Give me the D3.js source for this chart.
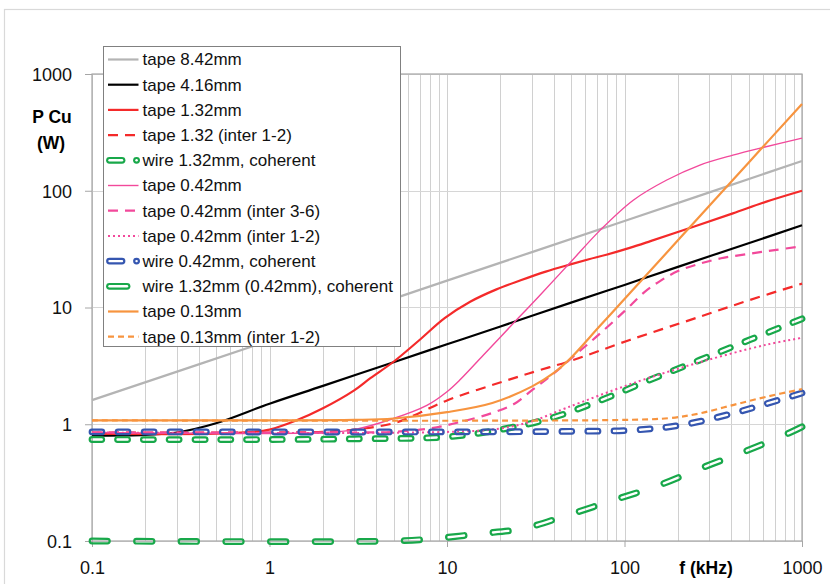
<!DOCTYPE html>
<html><head><meta charset="utf-8">
<script src="https://cdn.jsdelivr.net/npm/d3@7"></script>
<style>body{margin:0;background:#fff}svg{display:block}</style>
</head><body><svg id="c" width="830" height="584"></svg>
<script>
// ---- data ----
const freqTicks = [0.1, 1, 10, 100, 1000];
const powerTicks = [0.1, 1, 10, 100, 1000];
const seriesNames = [
  "tape 8.42mm", "tape 4.16mm", "tape 1.32mm", "tape 1.32 (inter 1-2)",
  "wire 1.32mm, coherent", "tape 0.42mm", "tape 0.42mm (inter 3-6)",
  "tape 0.42mm (inter 1-2)", "wire 0.42mm, coherent",
  "wire 1.32mm (0.42mm), coherent", "tape 0.13mm", "tape 0.13mm (inter 1-2)"
];
const tape842 = [[0.1,1.61],[1,5.2],[10,17],[100,55],[1000,180]];
const tape416 = [[0.1,0.8],[0.2,0.81],[0.3,0.85],[0.5,1.02],[1,1.5],[2,2.13],[5,3.4],[10,4.84],[20,6.88],[50,11],[100,15.6],[200,22.3],[500,35.5],[1000,50.6]];
const tape132 = [[0.1,0.83],[0.5,0.83],[0.8,0.86],[1,0.9],[1.4,1.07],[2,1.37],[3,1.95],[3.7,2.48],[5,3.43],[7,5.27],[9.7,8.1],[13.5,11.2],[19,14.3],[26,17.1],[36,20.3],[49,23.3],[63,25.9],[79,28.3],[107,32.4],[140,37],[245,49.2],[408,64],[630,80.7],[1000,100]];
const tape132i12 = [[0.1,0.85],[1,0.85],[2,0.86],[3,0.9],[5,1.02],[7,1.25],[10,1.6],[22,2.39],[33,2.9],[50,3.5],[107,5.27],[270,8.4],[500,11.5],[1000,16]];
const wire132 = [[0.1,0.74],[1,0.74],[3,0.75],[10,0.78],[20,0.9],[38,1.12],[73,1.6],[139,2.4],[266,3.55],[510,5.3],[1000,8]];
const tape042 = [[0.1,0.85],[2,0.85],[3,0.9],[5,1.12],[7.7,1.45],[10,1.9],[11.8,2.39],[16,3.9],[24.6,7.8],[33,12.5],[49,23.9],[73,46],[112,83],[172,123],[266,166],[408,202],[610,236],[1000,282]];
const tape042i36 = [[0.1,0.85],[3,0.85],[5,0.86],[8,0.92],[12,1.05],[18,1.25],[24,1.5],[30,1.95],[38,2.56],[54,4.05],[73,6.0],[100,9.3],[130,13.6],[160,17],[200,20.5],[260,23.5],[350,26.4],[500,28.8],[700,31],[1000,33.5]];
const tape042i12 = [[0.1,0.85],[10,0.86],[20,0.92],[30,1.06],[47,1.38],[112,2.25],[266,3.4],[630,4.8],[1000,5.5]];
const wire042 = [[0.1,0.86],[10,0.86],[50,0.87],[112,0.89],[214,0.99],[408,1.24],[630,1.5],[1000,1.85]];
const wire132s = [[0.1,0.1],[5,0.1],[8,0.104],[15,0.115],[27,0.128],[48,0.167],[87,0.224],[156,0.30],[280,0.43],[484,0.59],[843,0.84],[1000,0.95]];
const tape013 = [[0.1,1.08],[1,1.08],[3,1.09],[5,1.12],[10,1.27],[18,1.52],[30,2.1],[40,2.75],[49,3.6],[73,7.0],[100,11.8],[200,37.6],[500,174],[1000,553]];
const tape013i12 = [[0.1,1.08],[100,1.09],[180,1.13],[266,1.24],[408,1.46],[630,1.72],[1000,2.0]];

const seriesData = [tape842, tape416, tape132, tape132i12, wire132, tape042, tape042i36, tape042i12, wire042, wire132s, tape013, tape013i12];

// ---- styles ----
const RED = "#f42a2a", PINK = "#f2499b", GREEN = "#18a84a", BLUE = "#3556b0", ORANGE = "#f7943f";
const styles = [
  {color:"#b4b4b4", w:2.2},
  {color:"#000000", w:2.2},
  {color:RED, w:2.2},
  {color:RED, w:2.2, dash:"10 7"},
  {color:GREEN, wire:true, dashLen:10, period:26, legend:"dashdot"},
  {color:PINK, w:1.4},
  {color:PINK, w:2.2, dash:"10 7"},
  {color:PINK, w:2, dash:"2 3"},
  {color:BLUE, wire:true, dashLen:10, period:26, legend:"dashdot"},
  {color:GREEN, wire:true, dashLen:15.5, period:45.5, legend:"dash"},
  {color:ORANGE, w:2.2},
  {color:ORANGE, w:2.2, dash:"6 4"}
];

const W = 830, H = 584;
const FONT = "'Liberation Sans', Arial, sans-serif";
const svg = d3.select("#c");
const defs = svg.append("defs");

svg.append("rect").attr("x",4.5).attr("y",9.5).attr("width",840).attr("height",600)
  .attr("fill","#fff").attr("stroke","#d9d9d9").attr("stroke-width",1.2);

const x = d3.scaleLog().domain([0.1, 1000]).range([92, 802]);
const y = d3.scaleLog().domain([0.1, 1000]).range([541, 74]);

// grid
const grid = svg.append("g");
grid.selectAll("line.v").data(x.ticks()).join("line")
  .attr("x1", d => Math.round(x(d)) + 0.5).attr("x2", d => Math.round(x(d)) + 0.5)
  .attr("y1", 74).attr("y2", 541).attr("stroke", "#d0d0d0").attr("stroke-width", 1);
grid.selectAll("line.h").data(powerTicks).join("line")
  .attr("x1", 92).attr("x2", 802)
  .attr("y1", d => Math.round(y(d)) + 0.5).attr("y2", d => Math.round(y(d)) + 0.5)
  .attr("stroke", "#d6d6d6").attr("stroke-width", 1);
svg.append("rect").attr("x",92).attr("y",74).attr("width",710).attr("height",467)
  .attr("fill","none").attr("stroke","#a6a6a6").attr("stroke-width",1.2);

// axes
const fmt = d => String(d);
const xAxis = svg.append("g").attr("transform","translate(0,541)")
  .call(d3.axisBottom(x).tickValues(freqTicks).tickFormat(fmt).tickSize(6).tickSizeOuter(0));
xAxis.select(".domain").remove();
xAxis.selectAll(".tick line").attr("stroke","#a6a6a6");
xAxis.selectAll("text").attr("y",27).attr("dy","0.35em")
  .attr("font-family",FONT).attr("font-size",18).attr("fill","#111");
const yAxis = svg.append("g").attr("transform","translate(92,0)")
  .call(d3.axisLeft(y).tickValues(powerTicks).tickFormat(fmt).tickSize(7).tickSizeOuter(0));
yAxis.select(".domain").remove();
yAxis.selectAll(".tick line").attr("stroke","#a6a6a6");
yAxis.selectAll("text").attr("x",-20).attr("dy","0.35em")
  .attr("font-family",FONT).attr("font-size",18).attr("fill","#111");

svg.append("text").attr("x",52).attr("y",117).attr("dy","0.35em").attr("text-anchor","middle")
  .attr("font-family",FONT).attr("font-weight","bold").attr("font-size",17.5).text("P Cu");
svg.append("text").attr("x",51).attr("y",143).attr("dy","0.35em").attr("text-anchor","middle")
  .attr("font-family",FONT).attr("font-weight","bold").attr("font-size",17.5).text("(W)");
svg.append("text").attr("x",706).attr("y",568).attr("dy","0.35em").attr("text-anchor","middle")
  .attr("font-family",FONT).attr("font-weight","bold").attr("font-size",17.5).text("f (kHz)");

// lines
const line = d3.line().x(d => x(d[0])).y(d => y(d[1])).curve(d3.curveCatmullRom.alpha(0.5));
const lines = svg.append("g");
let maskId = 0;
function wire(g, d, color, dash) {
  const id = "m" + (maskId++);
  const m = defs.append("mask").attr("id", id).attr("maskUnits","userSpaceOnUse")
    .attr("x",0).attr("y",0).attr("width",W).attr("height",H);
  m.append("rect").attr("width",W).attr("height",H).attr("fill","#fff");
  m.append("path").attr("d",d).attr("fill","none").attr("stroke","#000").attr("stroke-width",2.4)
    .attr("stroke-linecap","round").attr("stroke-dasharray",dash);
  g.append("path").attr("d",d).attr("fill","none").attr("stroke",color).attr("stroke-width",6.8)
    .attr("stroke-linecap","round").attr("stroke-dasharray",dash).attr("mask",`url(#${id})`);
}
seriesData.forEach((data, i) => {
  const s = styles[i];
  const d = line(data);
  if (s.wire) {
    // fit the dash period so the line both starts and ends with a full dash
    const tmp = svg.append("path").attr("d", d);
    const L = tmp.node().getTotalLength();
    tmp.remove();
    const n = Math.max(1, Math.round((L - s.dashLen) / s.period));
    const p = (L - s.dashLen) / n;
    wire(lines, d, s.color, `${s.dashLen} ${p - s.dashLen}`);
  } else {
    lines.append("path").attr("d", d).attr("fill","none").attr("stroke", s.color)
      .attr("stroke-width", s.w).attr("stroke-dasharray", s.dash || null);
  }
});

// legend
const lg = svg.append("g");
lg.append("rect").attr("x",103.5).attr("y",46.5).attr("width",297).attr("height",300)
  .attr("fill","#fff").attr("stroke","#808080").attr("stroke-width",1);
seriesNames.forEach((name, i) => {
  const s = styles[i];
  const cy = 59.5 + 25.2 * i;
  if (s.wire) {
    if (s.legend === "dashdot") {
      wire(lg, `M109.5,${cy}L122,${cy}`, s.color, null);
      wire(lg, `M136.5,${cy}L136.6,${cy}`, s.color, null);
    } else {
      wire(lg, `M109.5,${cy}L127,${cy}`, s.color, null);
    }
  } else {
    lg.append("line").attr("x1",108).attr("x2",138.5).attr("y1",cy).attr("y2",cy)
      .attr("stroke", s.color).attr("stroke-width", s.w).attr("stroke-dasharray", s.dash || null);
  }
  lg.append("text").attr("x",142.5).attr("y",cy).attr("dy","0.35em")
    .attr("font-family",FONT).attr("font-size",17).attr("fill","#111").text(name);
});
</script></body></html>
